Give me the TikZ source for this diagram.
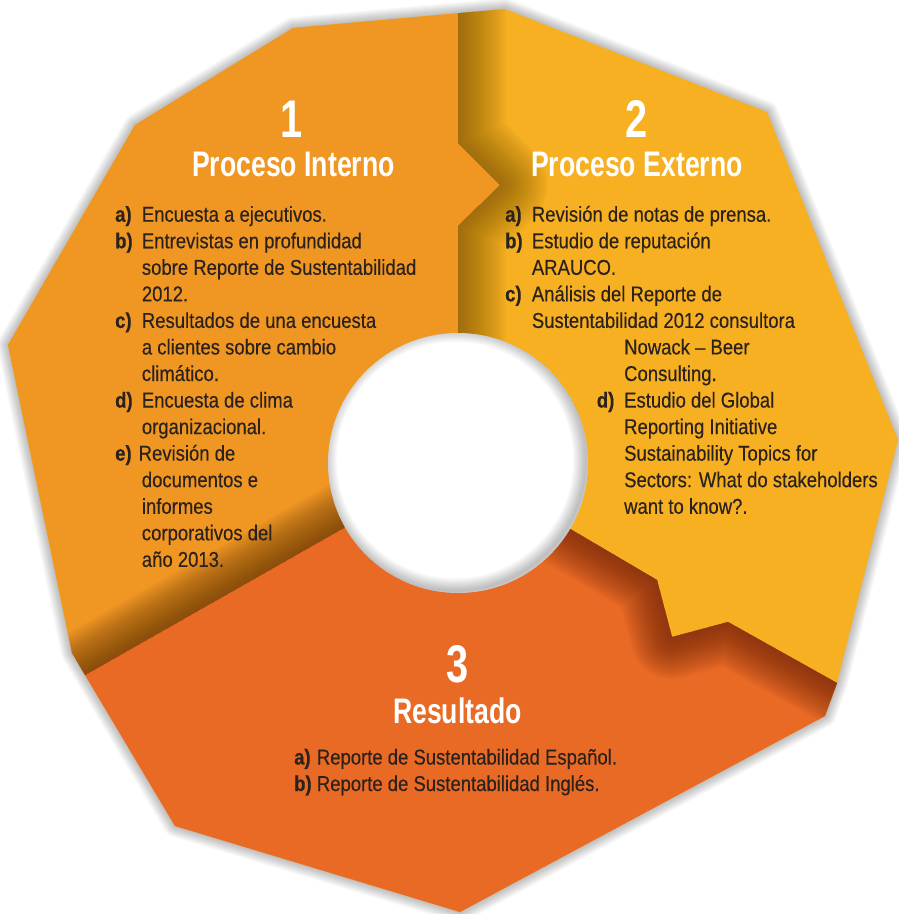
\documentclass[tikz,border=0pt]{standalone}
\usepackage{fontspec}
\usetikzlibrary{calc}
\newfontfamily\bodyfont{Liberation Sans}[FakeStretch=0.86,FakeBold=0.3]
\newfontfamily\titlefont{Liberation Sans}[FakeStretch=0.75]
\definecolor{orA}{HTML}{F09623}
\definecolor{yeB}{HTML}{F6B021}
\definecolor{orC}{HTML}{E96A24}
\definecolor{txt}{HTML}{2B221D}
\definecolor{shY}{HTML}{6A4A0E}
\definecolor{shA}{HTML}{5A320C}
\definecolor{shC}{HTML}{6A2410}
\tikzset{
  body/.style={anchor=base west, inner sep=0pt, text=txt, font=\bodyfont\fontsize{21.5}{26}\selectfont},
  lab/.style={body, font=\bodyfont\bfseries\fontsize{21.5}{26}\selectfont},
  bignum/.style={anchor=base, inner sep=0pt, text=white, font=\titlefont\bfseries\fontsize{53}{56}\selectfont},
  ttl/.style={anchor=base, inner sep=0pt, text=white, font=\titlefont\bfseries\fontsize{35.5}{40}\selectfont},
}
\begin{document}
\begin{tikzpicture}[x=1pt,y=-1pt]
\useasboundingbox (0,0) rectangle (898,914);
\fill[white] (0,0) rectangle (898,914);
% coordinates
\coordinate (C) at (458,463);
\coordinate (T1) at (293,28);
\coordinate (T2) at (505,9);
\coordinate (TR) at (767,112);
\coordinate (R) at (898,440);
\coordinate (RB1) at (837,683);
\coordinate (RB) at (825,716);
\coordinate (B) at (460,912);
\coordinate (BL) at (175,826);
\coordinate (L1) at (72,653);
\coordinate (L) at (8,345);
\coordinate (TL) at (135,125);
\coordinate (Tm) at (458,13.2);
\coordinate (Lm) at (85,675);
\coordinate (N1) at (458,143);
\coordinate (N2) at (500,185);
\coordinate (N3) at (458,226);
\coordinate (Y1) at (657,580);
\coordinate (Y2) at (672,637);
\coordinate (Y3) at (728,622);
% outer soft shadow
\begin{scope}[shift={(2,3)}]
\foreach \w in {2,4,...,22}
  \draw[black, opacity=0.022, line width=\w pt, line join=round]
    (T1) -- (T2) -- (TR) -- (R) -- (RB1) -- (RB) -- (B) -- (BL) -- (L1) -- (L) -- (TL) -- cycle;
\end{scope}
% base
\fill[yeB] (T1) -- (T2) -- (TR) -- (R) -- (RB1) -- (RB) -- (B) -- (BL) -- (L1) -- (L) -- (TL) -- cycle;
% orange segment
\fill[orA] (Tm) -- (T1) -- (TL) -- (L) -- (L1) -- (Lm) -- (C) -- (N3) -- (N2) -- (N1) -- cycle;
% dark orange segment
\fill[orC] (Lm) -- (BL) -- (B) -- (RB) -- (RB1) -- (Y3) -- (Y2) -- (Y1) -- (C) -- cycle;
% shadow on yellow
\begin{scope}
\clip (Tm) -- (T2) -- (TR) -- (R) -- (RB1) -- (Y3) -- (Y2) -- (Y1) -- (C) -- (N3) -- (N2) -- (N1) -- cycle;
\foreach \w in {3,6,...,96}
  \draw[shY, opacity=0.024, line width=\w pt, line join=round] (458,-10) -- (N1) -- (N2) -- (N3) -- (C);
\end{scope}
% shadow on orange
\begin{scope}
\clip (Tm) -- (T1) -- (TL) -- (L) -- (L1) -- (Lm) -- (C) -- (N3) -- (N2) -- (N1) -- cycle;
\foreach \w in {3,6,...,90}
  \draw[shA, opacity=0.03, line width=\w pt, line join=round] ($(Lm)!-0.2!(C)$) -- (C);
\end{scope}
% shadow on dark orange
\begin{scope}
\clip (Lm) -- (BL) -- (B) -- (RB) -- (RB1) -- (Y3) -- (Y2) -- (Y1) -- (C) -- cycle;
\foreach \w in {3,6,...,84}
  \draw[shC, opacity=0.035, line width=\w pt, line join=round] (C) -- (Y1) -- (Y2) -- (Y3) -- (RB1) -- ($(Y3)!1.3!(RB1)$);
\end{scope}
% hole
\fill[white] (C) circle (130);
\begin{scope}
\clip (C) circle (130);
\foreach \w in {2,4,...,26}
  \draw[black, opacity=0.02, line width=\w pt] ($(C)+(-3,-3)$) circle (131);
\end{scope}
% titles
\node[bignum] (n1) at (292,137) {1};
\node[ttl] (t1) at (293.5,176) {Proceso Interno};
\node[bignum] (n2) at (637,137) {2};
\node[ttl] (t2) at (637,176) {Proceso Externo};
\node[bignum] (n3) at (458,682) {3};
\node[ttl] (t3) at (457.5,723) {Resultado};
% left block
\foreach \n/\xx/\yy/\t in {
  1/141.7/221.7/Encuesta a ejecutivos.,
  2/141.7/248.25/Entrevistas en profundidad,
  3/141.7/274.8/sobre Reporte de Sustentabilidad,
  4/141.7/301.35/2012.,
  5/141.7/327.9/Resultados de una encuesta,
  6/141.7/354.45/a clientes sobre cambio,
  7/141.7/381.0/climático.,
  8/141.7/407.55/Encuesta de clima,
  9/141.7/434.1/organizacional.,
  10/138.5/460.65/Revisión de,
  11/141.7/487.2/documentos e,
  12/141.7/513.75/informes,
  13/141.7/540.3/corporativos del,
  14/141.7/566.85/año 2013.}
  \node[body] (lt\n) at (\xx,\yy) {\t};
\foreach \n/\yy/\t in {a/221.7/a),b/248.25/b),c/327.9/c),d/407.55/d),e/460.65/e)}
  \node[lab] (ll\n) at (115,\yy) {\t};
% right block
\foreach \n/\xx/\yy/\t in {
  1/531.7/221.7/Revisión de notas de prensa.,
  2/531.7/248.25/Estudio de reputación,
  3/531.7/274.8/ARAUCO.,
  4/531.7/301.35/Análisis del Reporte de,
  5/531.7/327.9/Sustentabilidad 2012 consultora,
  6/624/354.45/Nowack – Beer,
  7/624/381.0/Consulting.,
  8/624/407.55/Estudio del Global,
  9/624/434.1/Reporting Initiative,
  10/624/460.65/Sustainability Topics for,
  11/624/487.2/Sectors: What do stakeholders,
  12/624/513.75/want to know?.}
  \node[body] (rt\n) at (\xx,\yy) {\t};
\foreach \n/\xx/\yy/\t in {a/505/221.7/a),b/505/248.25/b),c/505/301.35/c),d/596.7/407.55/d)}
  \node[lab] (rl\n) at (\xx,\yy) {\t};
% bottom block
\node[lab] (bla) at (294,764.5) {a)};
\node[body] (bta) at (316.7,764.5) {Reporte de Sustentabilidad Español.};
\node[lab] (blb) at (294,791) {b)};
\node[body] (btb) at (316.7,791) {Reporte de Sustentabilidad Inglés.};
\end{tikzpicture}
\end{document}
